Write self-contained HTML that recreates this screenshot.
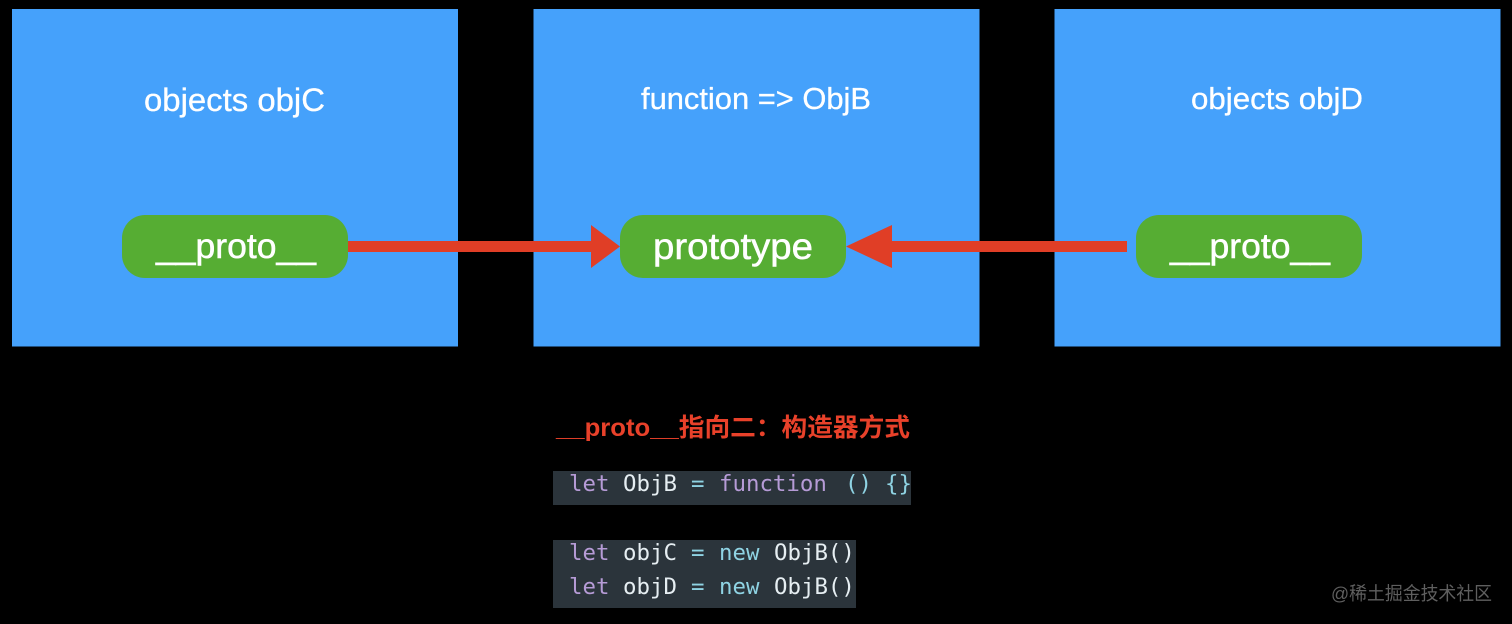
<!DOCTYPE html>
<html>
<head>
<meta charset="utf-8">
<style>
html,body{margin:0;padding:0;background:#000;width:1512px;height:624px;overflow:hidden}
svg{display:block}
text{font-family:"Liberation Sans","Noto Sans CJK SC",sans-serif}
.m{font-family:"DejaVu Sans Mono","Liberation Mono",monospace;font-size:22.4px}
</style>
</head>
<body>
<svg width="1512" height="624" viewBox="0 0 1512 624" xmlns="http://www.w3.org/2000/svg">
<rect width="1512" height="624" fill="#000"/>
<rect x="12" y="9" width="446" height="337.5" fill="#45a1fb"/>
<rect x="533.5" y="9" width="446" height="337.5" fill="#45a1fb"/>
<rect x="1054.5" y="9" width="446" height="337.5" fill="#45a1fb"/>
<text x="144" y="111" fill="#fff" font-size="32.5" stroke="#fff" stroke-width="0.3" textLength="181" lengthAdjust="spacingAndGlyphs">objects objC</text>
<text x="641" y="109" fill="#fff" font-size="30.8" stroke="#fff" stroke-width="0.3" textLength="230" lengthAdjust="spacingAndGlyphs">function =&gt; ObjB</text>
<text x="1191" y="109" fill="#fff" font-size="31" stroke="#fff" stroke-width="0.3" textLength="172" lengthAdjust="spacingAndGlyphs">objects objD</text>
<rect x="122" y="215" width="226" height="63" rx="23" fill="#56ad33"/>
<rect x="620" y="215" width="226" height="63" rx="23" fill="#56ad33"/>
<rect x="1136" y="215" width="226" height="63" rx="23" fill="#56ad33"/>
<text x="156" y="258" fill="#fff" font-size="35.5" stroke="#fff" stroke-width="0.5" textLength="160" lengthAdjust="spacingAndGlyphs">__proto__</text>
<text x="653" y="259" fill="#fff" font-size="37" stroke="#fff" stroke-width="0.5" textLength="160" lengthAdjust="spacingAndGlyphs">prototype</text>
<text x="1170" y="258" fill="#fff" font-size="35.5" stroke="#fff" stroke-width="0.5" textLength="160" lengthAdjust="spacingAndGlyphs">__proto__</text>
<polygon points="348,241 591,241 591,225 620,246.5 591,268 591,252 348,252" fill="#e03e26"/>
<polygon points="1127,241 892,241 892,225 846,246.5 892,268 892,252 1127,252" fill="#e03e26"/>
<text x="556" y="436" fill="#e8412a" font-size="25" font-weight="700" textLength="354" lengthAdjust="spacingAndGlyphs">__proto__指向二：构造器方式</text>
<rect x="553" y="471" width="358" height="34" fill="#2b343b"/>
<rect x="553" y="540" width="303" height="68" fill="#2b343b"/>
<text class="m" y="491"><tspan x="569" fill="#b69bd6">let</tspan><tspan x="623" fill="#e6eef2">ObjB</tspan><tspan x="691" fill="#8fd3e3">=</tspan><tspan x="719" fill="#b69bd6">function</tspan><tspan x="845" fill="#8fd3e3">()</tspan><tspan x="885" fill="#8fd3e3">{}</tspan></text>
<text class="m" y="560"><tspan x="569" fill="#b69bd6">let</tspan><tspan x="623" fill="#e6eef2">objC</tspan><tspan x="691" fill="#8fd3e3">=</tspan><tspan x="719" fill="#8fd3e3">new</tspan><tspan x="774" fill="#e6eef2">ObjB()</tspan></text>
<text class="m" y="594"><tspan x="569" fill="#b69bd6">let</tspan><tspan x="623" fill="#e6eef2">objD</tspan><tspan x="691" fill="#8fd3e3">=</tspan><tspan x="719" fill="#8fd3e3">new</tspan><tspan x="774" fill="#e6eef2">ObjB()</tspan></text>
<text x="1331" y="600" fill="#5f5f5f" font-size="18.5" textLength="161" lengthAdjust="spacingAndGlyphs">@稀土掘金技术社区</text>
</svg>
</body>
</html>
